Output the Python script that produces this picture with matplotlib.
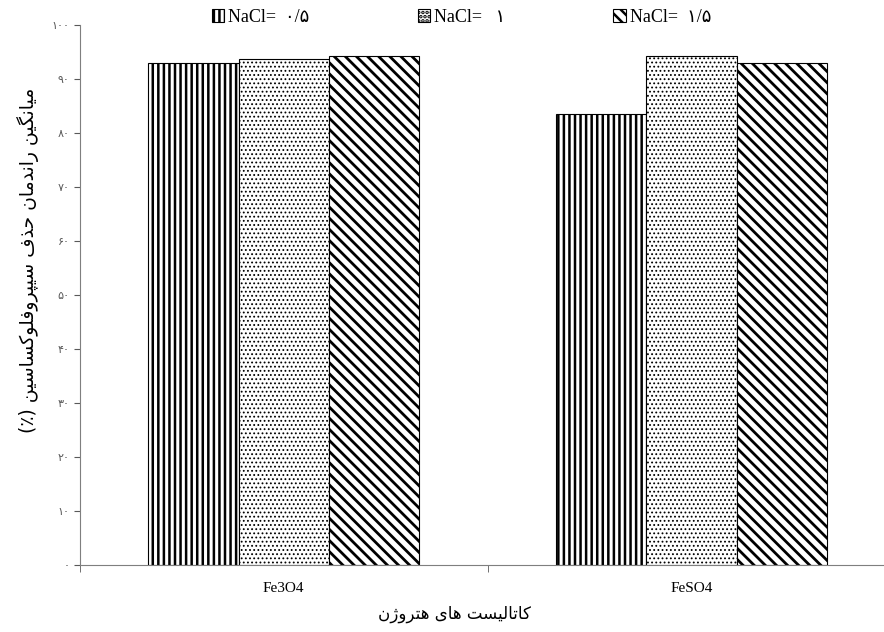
import numpy as np
import matplotlib
matplotlib.use('Agg')
from matplotlib import pyplot as plt

# data
categories = ['Fe3O4', 'FeSO4']
nacl_05 = [93.0, 83.5]
nacl_10 = [93.7, 94.3]
nacl_15 = [94.4, 93.1]
series_labels = ['NaCl=  ۰/۵', 'NaCl=   ۱', 'NaCl=  ۱/۵']
y_ticks = [0, 10, 20, 30, 40, 50, 60, 70, 80, 90, 100]
y_tick_labels = ['۰', '۱۰', '۲۰', '۳۰', '۴۰', '۵۰', '۶۰', '۷۰', '۸۰', '۹۰', '۱۰۰']
y_title = 'میانگین راندمان حذف سیپروفلوکساسین'
x_title = 'کاتالیست های هتروژن'

# presentation forms: isolated, final, initial, medial (2 entries = right-joining)
FORMS = {
    'ا': '\uFE8D\uFE8E', 'د': '\uFEA9\uFEAA', 'ذ': '\uFEAB\uFEAC',
    'ر': '\uFEAD\uFEAE', 'ژ': '\uFB8A\uFB8B', 'و': '\uFEED\uFEEE',
    'ب': '\uFE8F\uFE90\uFE91\uFE92', 'پ': '\uFB56\uFB57\uFB58\uFB59',
    'ت': '\uFE95\uFE96\uFE97\uFE98', 'ح': '\uFEA1\uFEA2\uFEA3\uFEA4',
    'س': '\uFEB1\uFEB2\uFEB3\uFEB4', 'ف': '\uFED1\uFED2\uFED3\uFED4',
    'ک': '\uFB8E\uFB8F\uFB90\uFB91', 'گ': '\uFB92\uFB93\uFB94\uFB95',
    'ل': '\uFEDD\uFEDE\uFEDF\uFEE0', 'م': '\uFEE1\uFEE2\uFEE3\uFEE4',
    'ن': '\uFEE5\uFEE6\uFEE7\uFEE8', 'ه': '\uFEE9\uFEEA\uFEEB\uFEEC',
    'ی': '\uFBFC\uFBFD\uFBFE\uFBFF',
}


def farsi(s):
    # matplotlib has no shaping / bidi, so do it by hand
    out = []
    for i, ch in enumerate(s):
        if ch not in FORMS:
            out.append(ch)
            continue
        prev = s[i - 1] if i > 0 else ''
        nxt = s[i + 1] if i + 1 < len(s) else ''
        f = FORMS[ch]
        jp = prev in FORMS and len(FORMS[prev]) == 4
        jn = nxt in FORMS and len(f) == 4
        if jp and jn:
            out.append(f[3])
        elif jp:
            out.append(f[1])
        elif jn:
            out.append(f[2])
        else:
            out.append(f[0])
    return ''.join(reversed(out))


plt.rcParams['font.family'] = ['Liberation Serif', 'DejaVu Sans']
plt.rcParams['hatch.linewidth'] = 1.8

fig = plt.figure(figsize=(8.84, 6.32), dpi=100)
ax = fig.add_axes([0.0905, 0.106, 0.922, 0.854])

x = np.arange(len(categories))
w = 0.222
b1 = ax.bar(x - w, nacl_05, w, color='white', edgecolor='black', linewidth=0.8,
            hatch='|||', label=series_labels[0])
b2 = ax.bar(x, nacl_10, w, color='white', edgecolor='black', linewidth=0.8,
            hatch='....', label=series_labels[1])
b3 = ax.bar(x + w, nacl_15, w, color='white', edgecolor='black', linewidth=0.8,
            hatch='\\\\\\', label=series_labels[2])
for p in b2:
    if hasattr(p, 'set_hatch_linewidth'):
        p.set_hatch_linewidth(0.8)
for p in b3:
    if hasattr(p, 'set_hatch_linewidth'):
        p.set_hatch_linewidth(2.0)

ax.set_xlim(-0.5, 1.5)
ax.set_ylim(0, 100)
ax.set_yticks(y_ticks)
ax.set_yticklabels(y_tick_labels, family='DejaVu Sans')
ax.tick_params(axis='y', labelsize=8, colors='#595959', length=4, width=0.8)
ax.set_xticks(x)
ax.set_xticklabels(categories, fontsize=11)
ax.tick_params(axis='x', length=0, pad=12)
ax.set_xticks([-0.5, 0.5, 1.5], minor=True)
ax.tick_params(axis='x', which='minor', length=5, color='#595959')

for s in ['top', 'right']:
    ax.spines[s].set_visible(False)
for s in ['left', 'bottom']:
    ax.spines[s].set_color('#7f7f7f')

ax.set_ylabel('(٪) ' + farsi(y_title), fontsize=13.5, family='DejaVu Sans')
ax.yaxis.set_label_coords(-0.05, 0.565)
ax.set_xlabel(farsi(x_title), fontsize=12, family='DejaVu Sans', labelpad=8)
ax.xaxis.set_label_coords(0.46, -0.075)

fig.legend(handles=[b1, b2, b3], loc='upper center', bbox_to_anchor=(0.522, 1.012),
           ncol=3, frameon=False, fontsize=13, columnspacing=6.0,
           handlelength=0.7, handleheight=0.7, handletextpad=0.2)

fig.savefig('out.png', dpi=100)
